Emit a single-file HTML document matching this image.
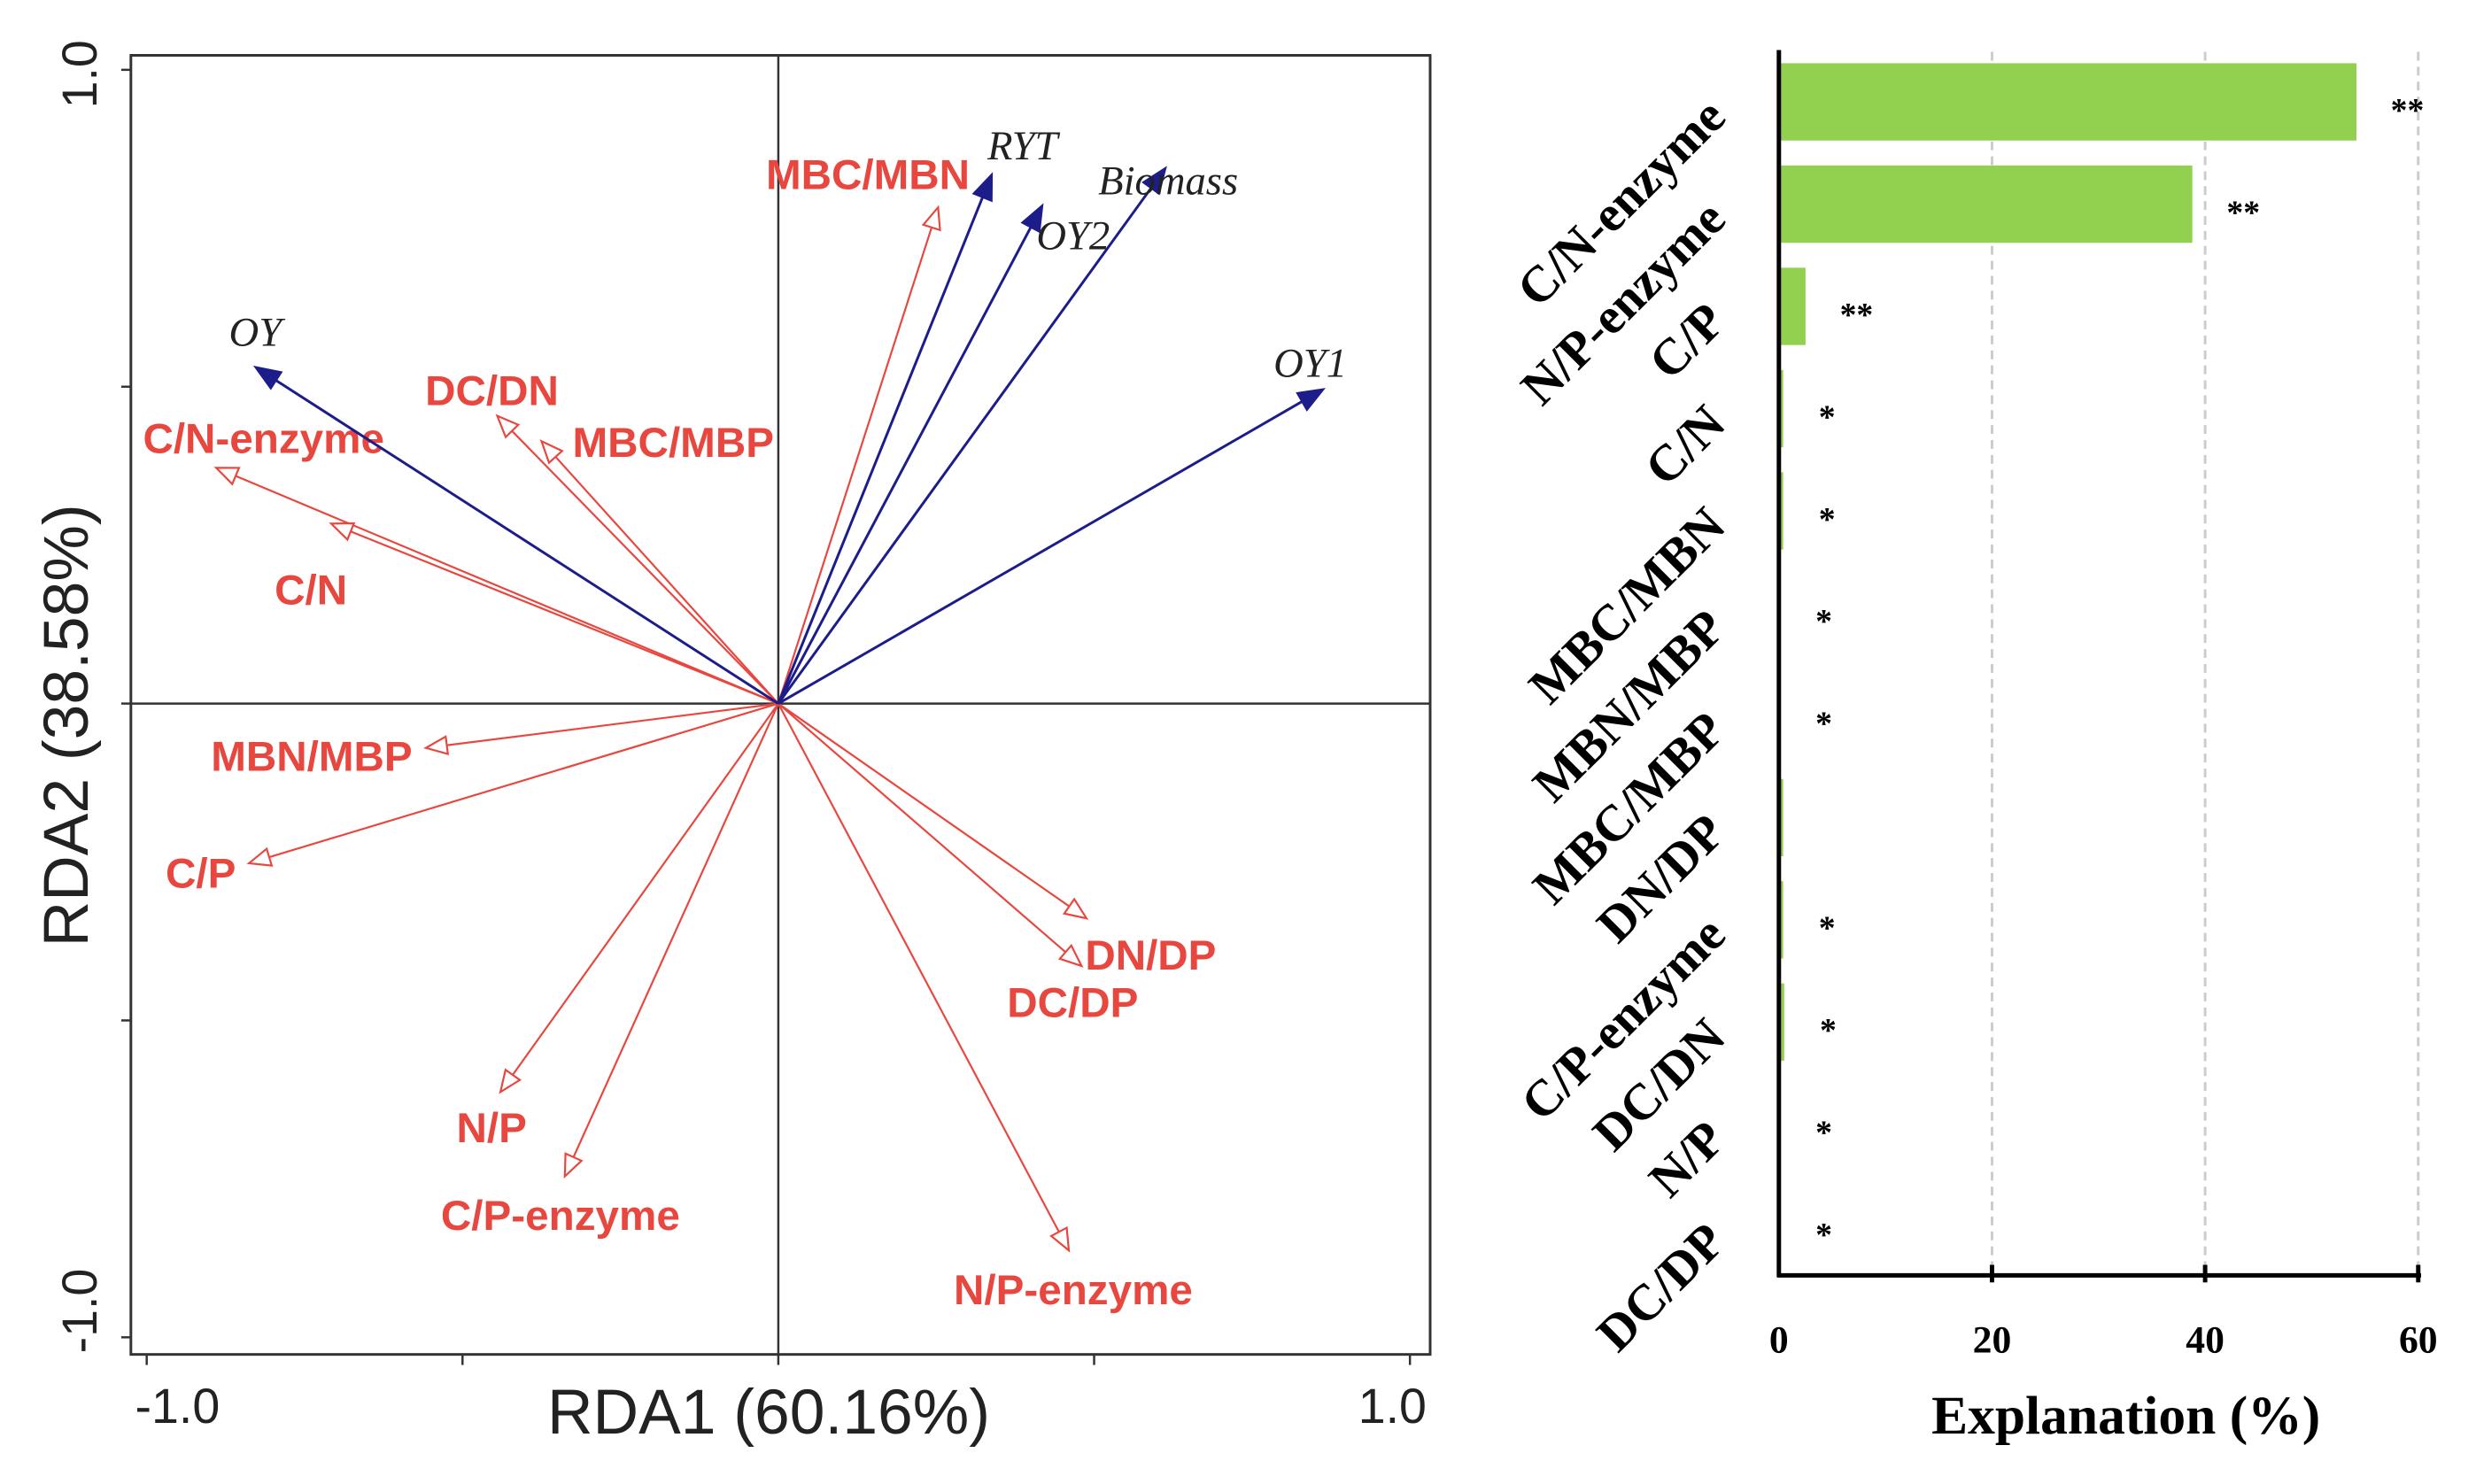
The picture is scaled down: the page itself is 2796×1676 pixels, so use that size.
<!DOCTYPE html>
<html><head><meta charset="utf-8"><style>
html,body{margin:0;padding:0;background:#fff;}
svg{display:block;}
</style></head><body>
<svg id="fig" width="2796" height="1676" viewBox="0 0 2796 1676" xmlns="http://www.w3.org/2000/svg">
<g transform="scale(0.992)">
<g id="rda"></g>
<g id="bar"></g>
</g>
</svg>
<script>
// ---- RDA data ----
const respNames = ['OY','RYT','OY2','Biomass','OY1'];
const respX = [-0.828,0.338,0.418,0.613,0.863];
const respY = [0.531,0.835,0.786,0.845,0.496];
const envNames = ['MBC/MBN','DC/DN','MBC/MBP','C/N-enzyme','C/N','MBN/MBP','C/P','N/P','C/P-enzyme','N/P-enzyme','DN/DP','DC/DP'];
const envX = [0.253,-0.445,-0.375,-0.890,-0.708,-0.558,-0.838,-0.440,-0.338,0.460,0.488,0.480];
const envY = [0.783,0.454,0.414,0.372,0.284,-0.070,-0.252,-0.613,-0.746,-0.863,-0.339,-0.414];
const axisTicks = [-1,-0.5,0,0.5,1];
// ---- Bar data ----
const barCats = ['C/N-enzyme','N/P-enzyme','C/P','C/N','MBC/MBN','MBN/MBP','MBC/MBP','DN/DP','C/P-enzyme','DC/DN','N/P','DC/DP'];
const barVals = [54.2,38.8,2.5,0.4,0.4,0.1,0.1,0.4,0.4,0.5,0.1,0.1];
const barSig = ['**','**','**','*','*','*','*','','*','*','*','*'];
const barTicks = [0,20,40,60];

const NS='http://www.w3.org/2000/svg';
function mk(parent,tag,attrs,text){const e=document.createElementNS(NS,tag);for(const k in attrs)e.setAttribute(k,attrs[k]);if(text!==undefined)e.textContent=text;parent.appendChild(e);return e;}

const X=v=>886+v*719, Y=v=>801-v*721.5;
const g=document.getElementById('rda');
let e;
e=mk(g,'rect',{x:149,y:63,width:1479,height:1479,fill:'none',stroke:'#333',"stroke-width":3});


e=mk(g,'line',{x1:X(0),y1:63,x2:X(0),y2:1542,stroke:'#333',"stroke-width":2.5});


e=mk(g,'line',{x1:149,y1:Y(0),x2:1628,y2:Y(0),stroke:'#333',"stroke-width":2.5});


axisTicks.forEach(t=>{
  e=mk(g,'line',{x1:X(t),y1:1542,x2:X(t),y2:1554,stroke:'#333',"stroke-width":2.5});
  
  
  e=mk(g,'line',{x1:138,y1:Y(t),x2:149,y2:Y(t),stroke:'#333',"stroke-width":2.5});
  
  
});
e=mk(g,'text',{x:X(-1)+35,y:1620,"font-family":"Liberation Sans, sans-serif","font-size":56,"text-anchor":"middle",fill:'#222'},'-1.0');


e=mk(g,'text',{x:X(1)-20,y:1620,"font-family":"Liberation Sans, sans-serif","font-size":56,"text-anchor":"middle",fill:'#222'},'1.0');


e=mk(g,'text',{x:0,y:0,transform:`translate(110,${Y(1)+5}) rotate(-90)`,"font-family":"Liberation Sans, sans-serif","font-size":56,"text-anchor":"middle",fill:'#222'},'1.0');


e=mk(g,'text',{x:0,y:0,transform:`translate(110,${Y(-1)-30}) rotate(-90)`,"font-family":"Liberation Sans, sans-serif","font-size":56,"text-anchor":"middle",fill:'#222'},'-1.0');


e=mk(g,'text',{x:875,y:1632,"font-family":"Liberation Sans, sans-serif","font-size":72,"text-anchor":"middle",fill:'#222'},'RDA1 (60.16%)');


e=mk(g,'text',{x:0,y:0,transform:'translate(100,826) rotate(-90)',"font-family":"Liberation Sans, sans-serif","font-size":72,"text-anchor":"middle",fill:'#222'},'RDA2 (38.58%)');



function arrow(x,y,color,filled){
  const x0=X(0),y0=Y(0),x1=X(x),y1=Y(y);
  const dx=x1-x0,dy=y1-y0,L=Math.hypot(dx,dy),ux=dx/L,uy=dy/L;
  const hl=filled?28:24,hw=filled?11:10;
  const bx=x1-ux*hl,by=y1-uy*hl;
  const ln=mk(g,'line',{x1:x0,y1:y0,x2:bx,y2:by,stroke:color,"stroke-width":filled?3:2.2});
  const p=`${x1},${y1} ${bx-uy*hw},${by+ux*hw} ${bx+uy*hw},${by-ux*hw}`;
  const hd=mk(g,'polygon',{points:p,fill:filled?color:'#fff',stroke:color,"stroke-width":2.2});
  return [ln,hd];
}
// label offsets relative to arrow tip (pixels)
const envLabOff=[[-80,-21],[-6,-12],[150,18],[54,-17],[-23,92],[-130,26],[-55,28],[-10,57],[-5,61],[5,61],[73,58],[-10,58]];
const respLabOff=[[0,-24],[35,-17],[35,50],[3,30],[-15,-14]];
envNames.forEach((n,i)=>{
  const [l,h]=arrow(envX[i],envY[i],'#e8473f',false);
  
  
  
  
  const t=mk(g,'text',{x:X(envX[i])+envLabOff[i][0],y:Y(envY[i])+envLabOff[i][1],"font-family":"Liberation Sans, sans-serif","font-weight":"bold","font-size":48,"text-anchor":"middle",fill:'#e8473f'},n);
  
  
});
respNames.forEach((n,i)=>{
  const [l,h]=arrow(respX[i],respY[i],'#1c1c8a',true);
  
  
  
  
  const t=mk(g,'text',{x:X(respX[i])+respLabOff[i][0],y:Y(respY[i])+respLabOff[i][1],"font-family":"Liberation Serif, serif","font-style":"italic","font-size":47,"text-anchor":"middle",fill:'#222'},n);
  
  
});

// Bar chart
const b=document.getElementById('bar');
const BX=v=>2025+v*12.13, rowC=i=>116+i*116.4;
barTicks.forEach(t=>{
  if(t>0){
    e=mk(b,'line',{x1:BX(t),y1:59,x2:BX(t),y2:1452,stroke:'#ccc',"stroke-width":3,"stroke-dasharray":"10,7"});
    
    
    e=mk(b,'line',{x1:BX(t),y1:1440,x2:BX(t),y2:1460,stroke:'#000',"stroke-width":5});
    
    
  }
  e=mk(b,'text',{x:BX(t),y:1540,"font-family":"Liberation Serif, serif","font-weight":"bold","font-size":44,"text-anchor":"middle",fill:'#000'},String(t));
  
  
});
barVals.forEach((v,i)=>{
  e=mk(b,'rect',{x:BX(0),y:rowC(i)-44,width:Math.max(BX(v)-BX(0),0.5),height:88,fill:'#92d050'});
  
  
  if(barSig[i]){
    e=mk(b,'text',{x:BX(v)+(barSig[i]=='**'?58:50),y:rowC(i)+22,"font-family":"Liberation Serif, serif","font-weight":"bold","font-size":38,"text-anchor":"middle",fill:'#000'},barSig[i]);
    
    
  }
  e=mk(b,'text',{x:0,y:0,transform:`translate(1967,${rowC(i)+20}) rotate(-45)`,"font-family":"Liberation Serif, serif","font-weight":"bold","font-size":58,"text-anchor":"end",fill:'#000'},barCats[i]);
  
  
});
e=mk(b,'line',{x1:2025,y1:57,x2:2025,y2:1454,stroke:'#000',"stroke-width":5});


e=mk(b,'line',{x1:2023,y1:1452,x2:2756,y2:1452,stroke:'#000',"stroke-width":5});


e=mk(b,'text',{x:2420,y:1632,"font-family":"Liberation Serif, serif","font-weight":"bold","font-size":62,"text-anchor":"middle",fill:'#000'},'Explanation (%)');


</script>
</body></html>
